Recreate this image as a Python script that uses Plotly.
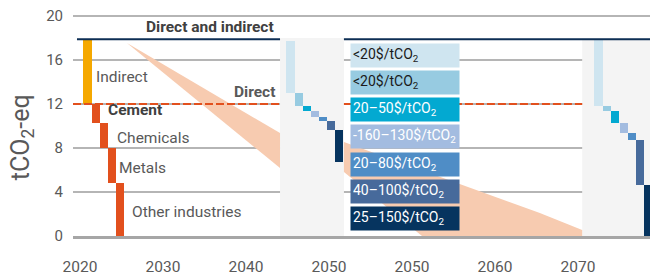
import plotly.graph_objects as go

FONT = "Roboto"
GRAY = "#595959"
DARK = "#404040"

# ---------------- data ----------------
# x axis: linear positions, relabelled (axis is broken: 2020-2050 | 2050-2070)
tick_vals = [2020, 2030, 2040, 2050, 2060, 2070, 2080]
tick_text = ["2020", "2030", "2040", "2050", "2050", "2060", "2070"]
y_ticks = [0, 4, 8, 12, 16, 20]

# left waterfall (direct + indirect breakdown)
left_names = ["Indirect", "Cement", "Chemicals", "Metals", "Other industries"]
left_x = [2020.9, 2021.88, 2022.86, 2023.84, 2024.8]
left_levels = [17.9, 12.0, 10.3, 8.0, 4.85, 0.0]
left_colors = ["#f5a800", "#e2501d", "#e2501d", "#e2501d", "#e2501d"]

# abatement waterfalls (two panels)
abate_labels = ["<20$/tCO<sub>2</sub>", "<20$/tCO<sub>2</sub>", "20–50$/tCO<sub>2</sub>",
                "-160–130$/tCO<sub>2</sub>", "20–80$/tCO<sub>2</sub>",
                "40–100$/tCO<sub>2</sub>", "25–150$/tCO<sub>2</sub>"]
abate_colors = ["#cfe5f0", "#97cbe1", "#03a9d1", "#a3bce0", "#4f8dc6", "#476a9b", "#06345f"]
abate_text_colors = ["#1a1a1a", "#1a1a1a", "white", "white", "white", "white", "white"]
panel1_x = [2045.36, 2046.36, 2047.35, 2048.31, 2049.28, 2050.24, 2051.2]
panel1_levels = [17.7, 12.97, 11.8, 11.4, 10.85, 10.45, 9.64, 6.75]
panel2_x = [2082.47, 2083.49, 2084.5, 2085.54, 2086.5, 2087.47, 2088.43]
panel2_levels = [17.9, 11.8, 11.36, 10.27, 9.36, 8.73, 4.64, 0.0]

# reference levels
direct_indirect = 17.9
direct = 12.0

# trajectory band (upper / lower bound), two sections
band1_upper_x = [2025.66, 2044.1]
band1_upper_y = [17.55, 9.36]
band1_lower_x = [2025.66, 2044.1]
band1_lower_y = [17.55, 6.18]
band2_upper_x = [2051.8, 2063.4, 2069.4, 2075.4, 2080.5]
band2_upper_y = [8.55, 5.36, 3.73, 2.09, 0.55]
band2_lower_x = [2051.8, 2061.2, 2080.5]
band2_lower_y = [5.82, 0.0, 0.0]

# grey panels behind abatement waterfalls
panels = [(2044.1, 2051.8, 18.0), (2080.5, 2092, 17.95)]

X_RANGE = [2019.16, 2088.67]
Y_RANGE = [0, 20.73]

fig = go.Figure()

# band
for ux, uy, lx, ly in [(band1_upper_x, band1_upper_y, band1_lower_x, band1_lower_y),
                       (band2_upper_x, band2_upper_y, band2_lower_x, band2_lower_y)]:
    fig.add_trace(go.Scatter(x=ux + lx[::-1], y=uy + ly[::-1], fill="toself",
                             fillcolor="#f7cbb0", mode="lines", line=dict(width=0),
                             hoverinfo="skip", showlegend=False))

# reference lines
fig.add_trace(go.Scatter(x=[2019.64, panels[0][0], None, panels[0][1], X_RANGE[1] + 2],
                         y=[direct_indirect] * 2 + [None] + [direct_indirect] * 2,
                         mode="lines", line=dict(color="#0d2e54", width=2),
                         showlegend=False, hoverinfo="skip"))
fig.add_trace(go.Scatter(x=[X_RANGE[0], panels[0][0], None, panels[0][1], panels[1][0]],
                         y=[direct] * 2 + [None] + [direct] * 2,
                         mode="lines", line=dict(color="#e2501d", width=2, dash="8px,3px"),
                         showlegend=False, hoverinfo="skip"))


def waterfall(xs, levels, colors):
    bases = [levels[i + 1] for i in range(len(xs))]
    heights = [levels[i] - levels[i + 1] for i in range(len(xs))]
    fig.add_trace(go.Bar(x=xs, y=heights, base=bases, width=0.98,
                         marker=dict(color=colors, line=dict(width=0)),
                         showlegend=False, hoverinfo="skip"))


waterfall(left_x, left_levels, left_colors)
waterfall(panel1_x, panel1_levels, abate_colors)
waterfall(panel2_x, panel2_levels, abate_colors)

shapes = []
for x0, x1, top in panels:
    shapes.append(dict(type="rect", xref="x", yref="y", x0=x0, x1=x1, y0=0, y1=top,
                       fillcolor="#f4f4f4", line=dict(width=0), layer="between"))

annotations = []
# text labels
labels = [
    ("Direct and indirect", 2027.7, 19.0, "left", DARK, True),
    ("Direct", 2043.7, 13.1, "right", GRAY, True),
    ("Indirect", 2021.7, 14.45, "left", GRAY, False),
    ("Cement", 2023.1, 11.45, "left", DARK, True),
    ("Chemicals", 2024.2, 8.9, "left", GRAY, False),
    ("Metals", 2024.45, 6.18, "left", GRAY, False),
    ("Other industries", 2026.0, 2.18, "left", GRAY, False),
]
for txt, x, y, anc, col, bold in labels:
    annotations.append(dict(text=f"<b>{txt}</b>" if bold else txt, x=x, y=y, xref="x", yref="y",
                            xanchor=anc, yanchor="middle", showarrow=False,
                            font=dict(family=FONT, size=15.5, color=col)))

# legend boxes
box_y = [16.43, 13.98, 11.53, 9.06, 6.53, 4.06, 1.57]
for lab, col, tcol, yy in zip(abate_labels, abate_colors, abate_text_colors, box_y):
    annotations.append(dict(text=lab, x=2052.53, y=yy, xref="x", yref="y",
                            xanchor="left", yanchor="middle", showarrow=False,
                            width=104, height=18.5, borderpad=2, align="left",
                            bgcolor=col, font=dict(family=FONT, size=14, color=tcol)))

# y axis title
annotations.append(dict(text="tCO<sub>2</sub>-eq", x=-0.088, y=0.434, xref="paper", yref="paper",
                        xanchor="center", yanchor="middle", textangle=-90, showarrow=False,
                        font=dict(family=FONT, size=25, color=GRAY)))

fig.update_layout(
    width=650, height=272,
    margin=dict(l=73, r=0, t=8, b=36),
    paper_bgcolor="white", plot_bgcolor="white",
    font=dict(family=FONT, color=GRAY),
    shapes=shapes, annotations=annotations, showlegend=False,
    bargap=0,
)
fig.update_xaxes(range=X_RANGE, tickvals=tick_vals, ticktext=tick_text, automargin=False,
                 showgrid=False, zeroline=False, showline=True, linecolor="#a6a6a6",
                 linewidth=3, ticks="", ticklabelstandoff=14,
                 tickfont=dict(family=FONT, size=15.5, color=GRAY))
fig.update_yaxes(range=Y_RANGE, tickvals=y_ticks, showgrid=True, gridcolor="#b5b5b5",
                 gridwidth=1.5, zeroline=False, showline=False, ticks="", automargin=False,
                 ticklabelstandoff=9,
                 tickfont=dict(family=FONT, size=15, color=GRAY))

fig.write_html("out.html", config={"displayModeBar": False},
               post_script="document.body.style.margin='0';document.body.style.overflow='hidden';")
